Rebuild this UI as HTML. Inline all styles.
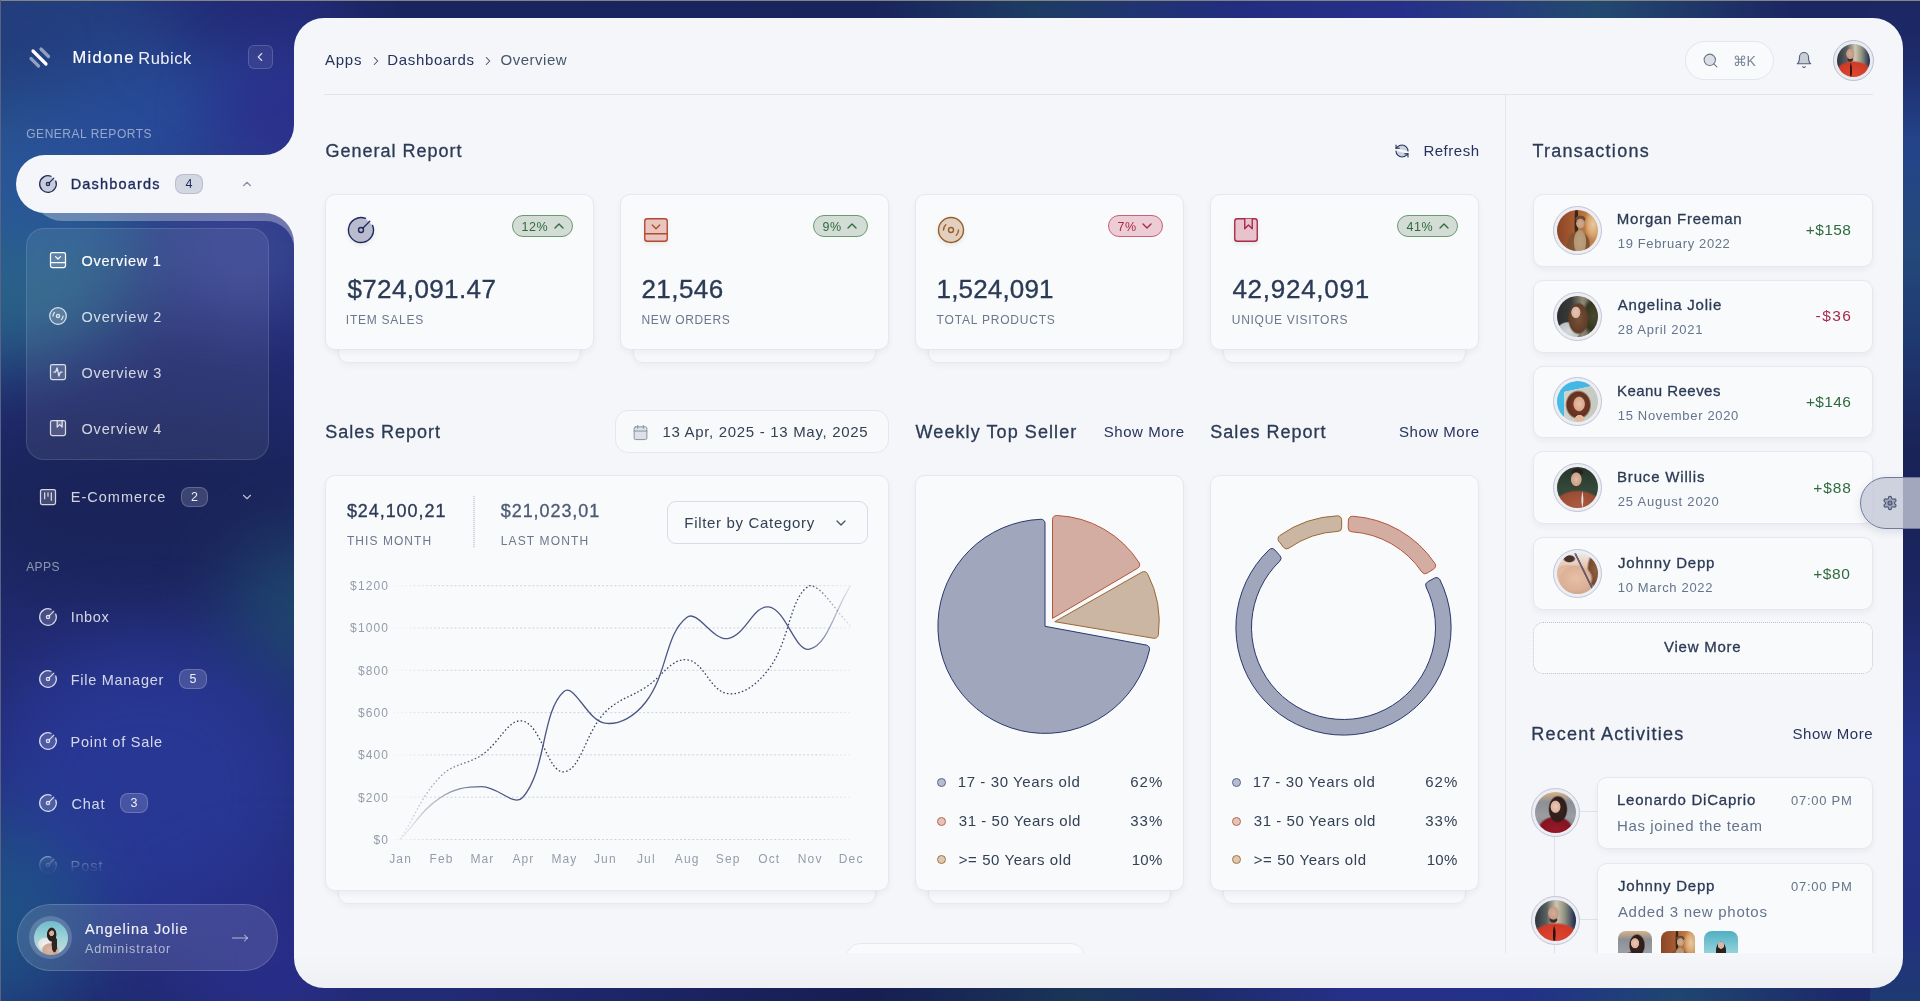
<!DOCTYPE html>
<html lang="en">
<head>
<meta charset="utf-8">
<title>Midone Rubick - Overview</title>
<style>
*{box-sizing:border-box;margin:0;padding:0}
html,body{width:1920px;height:1001px;overflow:hidden}
body{font-family:"Liberation Sans",sans-serif;color:#2b3a55;position:relative;background:#1f2a6b}
.abs{position:absolute}
#bg{position:absolute;left:0;top:0;width:1920px;height:1001px;overflow:hidden;background:#212a70}
#bg i{position:absolute;display:block;border-radius:50%;filter:blur(40px)}
#stripT{left:300px;top:0;width:1620px;height:50px;background:linear-gradient(90deg,rgba(37,47,128,0) 0%,#1a2560 6%,#19235c 35%,#1d3c62 45%,#232d80 58%,#26308a 68%,#23496f 80%,#1c2663 92%,#1c2663 100%)}
#stripB{left:300px;top:950px;width:1620px;height:51px;background:linear-gradient(90deg,rgba(34,43,118,0) 0%,#222b76 8%,#161e52 35%,#1a3558 48%,#1c2c66 55%,#25308a 65%,#23308a 75%,#1f4570 85%,#1d2a6a 95%,#1d2a6a 100%)}
#stripR{left:1870px;top:0;width:50px;height:1001px;background:linear-gradient(180deg,#1c2663 0%,#1d2b6a 6%,#23438a 14%,#24497a 25%,#1f3a72 33%,#1a2358 45%,#1b2560 58%,#25338a 75%,#232f80 92%,#1f3a72 100%)}
#edgeT{left:0;top:0;width:1920px;height:1px;background:#84857f}
#edgeL{left:0;top:0;width:1px;height:1001px;background:#5a6284}
#main{left:294px;top:18px;width:1609px;height:970px;background:linear-gradient(180deg,#f4f6f9 0,#f4f6f9 96.5%,#eff0f3 100%);border-radius:30px}
.side-t{color:#fff;white-space:nowrap}
.med{-webkit-text-stroke:.2px currentColor}
.shead{font-size:12px;line-height:14px;letter-spacing:.75px;color:rgba(255,255,255,.5);white-space:nowrap}
.smenu{font-size:14.5px;line-height:18px;color:rgba(255,255,255,.8);letter-spacing:.45px;white-space:nowrap}
.smenu.on{color:#fff;-webkit-text-stroke:.15px #fff}
.sico{fill:rgba(255,255,255,.18);stroke:#fff;stroke-width:1.5;stroke-linecap:round;stroke-linejoin:round}
.sico.dim{stroke-opacity:.8}
.sbadge{height:20px;border-radius:8px;background:rgba(255,255,255,.15);border:1px solid rgba(255,255,255,.2);color:rgba(255,255,255,.9);font-size:12.5px;line-height:18px;text-align:center}
.sbadge.dark{background:rgba(30,42,94,.15);border-color:rgba(30,42,94,.15);color:#1e2a5e}


.bc{font-size:15px;line-height:18px;color:#26335c;letter-spacing:.45px;white-space:nowrap}
.bcs{fill:none;stroke:#3b4764;stroke-width:1.8;stroke-linecap:round;stroke-linejoin:round}
.av{border-radius:50%;overflow:hidden}
.h2{font-size:18px;line-height:22px;color:#2b3a55;letter-spacing:.3px;white-space:nowrap;-webkit-text-stroke:.3px #2b3a55}
.lnk{font-size:15px;line-height:18px;color:#26335c;letter-spacing:.5px;white-space:nowrap}
.card{background:#f9fafc;border:1px solid #e4e8ef;border-radius:10px;box-shadow:0 3px 6px rgba(30,41,59,.05)}
.stack{background:#f7f8fb;border:1px solid #e6e9f0;border-radius:10px;box-shadow:0 3px 6px rgba(30,41,59,.04)}
.pill{height:22px;border-radius:11px;font-size:12.5px;line-height:20px;display:flex;align-items:center;justify-content:flex-start;padding-left:8.6px;gap:2.6px;white-space:nowrap;letter-spacing:.45px}
.pill span{position:relative;top:.8px}
.pill svg{fill:none;stroke-width:2;stroke-linecap:round;stroke-linejoin:round}
.pill.up{background:#d3ddd6;border:1px solid #6a9a72;color:#2f6b3d}
.pill.up svg{stroke:#2f6b3d}
.pill.dn{background:#eccdd5;border:1px solid #c9607a;color:#a82a4a}
.pill.dn svg{stroke:#a82a4a}
.big{font-size:26px;line-height:32px;color:#2b3a55;letter-spacing:.2px;white-space:nowrap;-webkit-text-stroke:.35px #2b3a55}
.cap{font-size:12px;line-height:15px;color:#6b778c;letter-spacing:.9px;white-space:nowrap}

.mid{font-size:18px;line-height:22px;color:#2b3a55;letter-spacing:.55px;white-space:nowrap;-webkit-text-stroke:.3px currentColor}
.cap2{font-size:12px;line-height:15px;color:#6b778c;letter-spacing:.9px;white-space:nowrap}
.yl{width:58px;text-align:right;font-size:12px;line-height:15px;color:#949cab;letter-spacing:1.15px}
.xl{width:40px;text-align:center;font-size:12px;line-height:15px;color:#949cab;letter-spacing:1.15px;padding-left:1.15px}
.dot{width:9px;height:9px;border-radius:50%;border:1px solid}
.lg{font-size:15px;line-height:18px;color:#334155;letter-spacing:.6px;white-space:nowrap}

.ring{width:49px;height:49px;border-radius:50%;border:1px solid #c0c5d8;background:#eceef4}
.nm{font-size:15px;line-height:18px;color:#2b3a55;letter-spacing:.65px;white-space:nowrap;-webkit-text-stroke:.3px #2b3a55}
.dt{font-size:13px;line-height:16px;color:#64748b;letter-spacing:.75px;white-space:nowrap}
.amt{font-size:15.5px;line-height:18px;text-align:right;letter-spacing:.6px;white-space:nowrap}
.amt.g{color:#2f6b3d}.amt.r{color:#a82a4a}
.tm{font-size:13px;line-height:16px;color:#64748b;letter-spacing:.6px;white-space:nowrap;text-align:right}
.sub{font-size:15px;line-height:18px;color:#64748b;letter-spacing:.65px;white-space:nowrap}
</style>
</head>
<body>
<div id="bg">
<i style="left:-110px;top:-70px;width:320px;height:230px;background:#24417f;opacity:.9"></i>
<i style="left:-170px;top:120px;width:320px;height:250px;background:#2b6c8d;opacity:.85"></i>
<i style="left:-70px;top:55px;width:420px;height:150px;background:#2a50a0;opacity:.8;transform:rotate(-24deg)"></i>
<i style="left:160px;top:-80px;width:240px;height:150px;background:#232a78;opacity:.9"></i>
<i style="left:215px;top:50px;width:150px;height:130px;background:#2c2f8e;opacity:.85;filter:blur(30px)"></i>
<i style="left:150px;top:180px;width:190px;height:140px;background:#4656a8;opacity:.65"></i>
<i style="left:-60px;top:400px;width:420px;height:210px;background:#1a2459;opacity:.95"></i>
<i style="left:230px;top:540px;width:140px;height:150px;background:#1f4b6e;opacity:.9"></i>
<i style="left:-20px;top:640px;width:330px;height:300px;background:#293896;opacity:.95"></i>
<i style="left:-110px;top:820px;width:200px;height:200px;background:#1f5a8a;opacity:.8"></i>
<i style="left:170px;top:880px;width:200px;height:160px;background:#2a2f8e;opacity:.8"></i>
</div>
<div id="stripT" class="abs"></div><div id="stripB" class="abs"></div><div id="stripR" class="abs"></div>
<div id="wrap" style="position:absolute;left:0;top:0;width:1920px;height:1001px;will-change:transform">
<div id="edgeT" class="abs"></div>
<div id="edgeL" class="abs"></div>
<div id="main" class="abs"></div>
<svg width="0" height="0" style="position:absolute">
<defs>
<g id="i-gauge"><path d="M15.6 2.7a10 10 0 1 0 5.7 5.7"/><circle cx="12" cy="12" r="2"/><path d="M13.4 10.6 19 5"/></g>
<g id="i-panel"><rect width="18" height="18" x="3" y="3" rx="2"/><path d="M3 15h18"/><path d="m15 8-3 3-3-3"/></g>
<g id="i-disc"><circle cx="12" cy="12" r="10"/><path d="M6 12c0-1.7.7-3.2 1.8-4.2"/><circle cx="12" cy="12" r="2"/><path d="M18 12c0 1.7-.7 3.2-1.8 4.2"/></g>
<g id="i-act"><rect width="18" height="18" x="3" y="3" rx="2"/><path d="M17 12h-2l-2 5-2-10-2 5H7"/></g>
<g id="i-album"><rect width="18" height="18" x="3" y="3" rx="2" ry="2"/><polyline points="11 3 11 11 14 8 17 11 17 3"/></g>
<g id="i-kanban"><rect width="18" height="18" x="3" y="3" rx="2"/><path d="M8 7v7"/><path d="M12 7v4"/><path d="M16 7v9"/></g>
</defs>
</svg>
<div id="side">
<svg class="abs" style="left:0;top:0" width="330" height="300" viewBox="0 0 330 300">
  <!-- translucent echo band below active pill -->
  <path d="M30 188 A33 33 0 0 0 63 221 L266 221 A28 28 0 0 1 294 249 L294 200 L30 200 Z" fill="#fff" fill-opacity=".3"/>
  <!-- active pill + inverse corners (panel colour) -->
  <path d="M294 125 A30 30 0 0 1 264 155 L45 155 A29 29 0 0 0 45 213 L264 213 A30 30 0 0 1 294 243 L330 243 L330 125 Z" fill="#f4f6f9"/>
</svg>
<!-- logo -->
<svg class="abs" style="left:28px;top:45px" width="24" height="24" viewBox="0 0 24 24" fill="none" stroke="#fff" stroke-width="3.2" stroke-linecap="round">
  <path d="M5 6 L18 19"/>
  <path d="M13 4 L20.5 11.5" stroke-opacity=".5"/>
  <path d="M3 13.5 L10.5 21" stroke-opacity=".5"/>
</svg>
<div class="abs side-t med" style="left:72.40px;letter-spacing:1.372px;top:47.10px;font-size:16.5px;line-height:20px">Midone</div><div class="abs side-t" style="left:138.30px;letter-spacing:0.483px;top:47.80px;font-size:16.5px;line-height:20px;opacity:.92">Rubick</div>
<div class="abs" style="left:248px;top:45px;width:25px;height:24px;border-radius:6px;background:rgba(255,255,255,.07);border:1px solid rgba(255,255,255,.16)"></div>
<svg class="abs" style="left:253px;top:50px" width="14" height="14" viewBox="0 0 24 24" fill="none" stroke="#fff" stroke-opacity=".8" stroke-width="2" stroke-linecap="round" stroke-linejoin="round"><path d="m15 18-6-6 6-6"/></svg>

<div class="abs shead" style="left:26.25px;letter-spacing:0.520px;top:127.00px">GENERAL REPORTS</div>

<!-- Dashboards (active) -->
<svg class="abs" style="left:38.4px;top:174.4px" width="20" height="20" viewBox="0 0 24 24" fill="rgba(30,42,94,.2)" stroke="#1e2a5e" stroke-width="1.5" stroke-linecap="round" stroke-linejoin="round"><use href="#i-gauge"/></svg>
<div class="abs" id="m-dash" style="left:70.70px;letter-spacing:1.174px;top:174.90px;font-size:14.5px;line-height:18px;color:#1e2a5e;-webkit-text-stroke:.35px #1e2a5e">Dashboards</div>
<div class="abs sbadge dark" style="left:175px;top:174px;width:28px">4</div>
<svg class="abs" style="left:240px;top:177px" width="14" height="14" viewBox="0 0 24 24" fill="none" stroke="#1e2a5e" stroke-opacity=".5" stroke-width="2" stroke-linecap="round" stroke-linejoin="round"><path d="m18 15-6-6-6 6"/></svg>

<!-- submenu -->
<div class="abs" style="left:26px;top:228px;width:243px;height:232px;border-radius:18px;background:rgba(255,255,255,.075);border:1px solid rgba(255,255,255,.12)"></div>
<svg class="abs sico" style="left:48.2px;top:250.3px" width="20" height="20" viewBox="0 0 24 24"><use href="#i-panel"/></svg>
<div class="abs smenu on" style="left:81.50px;letter-spacing:0.749px;top:251.80px">Overview 1</div>
<svg class="abs sico dim" style="left:48.2px;top:306.3px" width="20" height="20" viewBox="0 0 24 24"><use href="#i-disc"/></svg>
<div class="abs smenu" style="left:81.50px;letter-spacing:0.816px;top:307.80px">Overview 2</div>
<svg class="abs sico dim" style="left:48.2px;top:362.3px" width="20" height="20" viewBox="0 0 24 24"><use href="#i-act"/></svg>
<div class="abs smenu" style="left:81.50px;letter-spacing:0.816px;top:363.80px">Overview 3</div>
<svg class="abs sico dim" style="left:48.2px;top:418.3px" width="20" height="20" viewBox="0 0 24 24"><use href="#i-album"/></svg>
<div class="abs smenu" style="left:81.50px;letter-spacing:0.816px;top:419.80px">Overview 4</div>

<!-- E-Commerce -->
<svg class="abs sico dim" style="left:38.3px;top:487.0px" width="20" height="20" viewBox="0 0 24 24"><use href="#i-kanban"/></svg>
<div class="abs smenu" style="left:70.70px;letter-spacing:1.018px;top:488.20px">E-Commerce</div>
<div class="abs sbadge" style="left:181px;top:487px;width:27px">2</div>
<svg class="abs" style="left:240px;top:490px" width="14" height="14" viewBox="0 0 24 24" fill="none" stroke="#fff" stroke-opacity=".7" stroke-width="2" stroke-linecap="round" stroke-linejoin="round"><path d="m6 9 6 6 6-6"/></svg>

<div class="abs shead" style="left:26.20px;letter-spacing:0.429px;top:559.60px">APPS</div>

<svg class="abs sico dim" style="left:38.3px;top:607.0px" width="20" height="20" viewBox="0 0 24 24"><use href="#i-gauge"/></svg>
<div class="abs smenu" style="left:70.70px;letter-spacing:0.670px;top:608.30px">Inbox</div>
<svg class="abs sico dim" style="left:38.3px;top:669.0px" width="20" height="20" viewBox="0 0 24 24"><use href="#i-gauge"/></svg>
<div class="abs smenu" style="left:70.70px;letter-spacing:0.728px;top:670.70px">File Manager</div>
<div class="abs sbadge" style="left:179px;top:669px;width:28px">5</div>
<svg class="abs sico dim" style="left:38.3px;top:731.0px" width="20" height="20" viewBox="0 0 24 24"><use href="#i-gauge"/></svg>
<div class="abs smenu" style="left:70.50px;letter-spacing:0.787px;top:732.80px">Point of Sale</div>
<svg class="abs sico dim" style="left:38.3px;top:793.0px" width="20" height="20" viewBox="0 0 24 24"><use href="#i-gauge"/></svg>
<div class="abs smenu" style="left:71.50px;letter-spacing:0.767px;top:795.10px">Chat</div>
<div class="abs sbadge" style="left:120px;top:793px;width:28px">3</div>
<svg class="abs sico dim" style="left:38.3px;top:855.0px;opacity:.6;-webkit-mask-image:linear-gradient(180deg,#000 0%,rgba(0,0,0,.25) 60%,transparent 100%)" width="20" height="20" viewBox="0 0 24 24"><use href="#i-gauge"/></svg>
<div class="abs smenu" style="left:70.50px;letter-spacing:1.038px;top:857.10px;opacity:.6;-webkit-mask-image:linear-gradient(180deg,#000 0%,rgba(0,0,0,.25) 60%,transparent 100%)">Post</div>

<!-- user -->
<div class="abs" style="left:17px;top:904px;width:260.5px;height:66.5px;border-radius:33.5px;background:rgba(255,255,255,.12);border:1px solid rgba(255,255,255,.16)"></div>
<div class="abs" style="left:29px;top:916px;width:43px;height:43px;border-radius:50%;background:rgba(255,255,255,.18)"></div>
<div class="abs" style="left:33.5px;top:920.5px;width:34px;height:34px;border-radius:50%;background:radial-gradient(ellipse 8% 9% at 52% 36%,#d9b7a4 0,#cfa792 85%,rgba(0,0,0,0) 100%),radial-gradient(ellipse 15% 22% at 52% 40%,#2a201d 0,#2a201d 85%,rgba(0,0,0,0) 100%),radial-gradient(ellipse 9% 26% at 60% 68%,#2e2420 0,#2e2420 85%,rgba(0,0,0,0) 100%),radial-gradient(ellipse 26% 22% at 48% 86%,#d9b7a4 0,#cfa792 85%,rgba(0,0,0,0) 100%),radial-gradient(ellipse 24% 20% at 34% 68%,#f0f1ef 0,#e3e6e4 85%,rgba(0,0,0,0) 100%),linear-gradient(180deg,#6fbccb 0%,#9fd3da 50%,#c9dcd6 100%)"></div>
<div class="abs side-t" id="u-name" style="left:84.90px;letter-spacing:0.952px;top:920.30px;font-size:14.5px;line-height:18px;opacity:.92;-webkit-text-stroke:.15px #fff">Angelina Jolie</div>
<div class="abs side-t" id="u-role" style="left:84.90px;letter-spacing:0.977px;top:941.50px;font-size:12.5px;line-height:15px;opacity:.6">Administrator</div>
<svg class="abs" style="left:231px;top:929px" width="18" height="18" viewBox="0 0 24 24" fill="none" stroke="#fff" stroke-opacity=".6" stroke-width="1.4" stroke-linecap="round" stroke-linejoin="round"><path d="M18 8L22 12L18 16"/><path d="M2 12H22"/></svg>
</div>

<svg width="0" height="0" style="position:absolute"><defs>
<g id="i-chev-r"><path d="m9 18 6-6-6-6"/></g>
<g id="i-chev-u"><path d="m18 15-6-6-6 6"/></g>
<g id="i-chev-d"><path d="m6 9 6 6 6-6"/></g>
</defs></svg>
<!-- header -->
<div class="abs bc" id="bc1" style="left:325.00px;letter-spacing:0.737px;top:51.40px">Apps</div>
<svg class="abs bcs" style="left:369px;top:54px" width="14" height="14" viewBox="0 0 24 24"><use href="#i-chev-r"/></svg>
<div class="abs bc" id="bc2" style="left:387.30px;letter-spacing:0.647px;top:51.40px">Dashboards</div>
<svg class="abs bcs" style="left:481px;top:54px" width="14" height="14" viewBox="0 0 24 24"><use href="#i-chev-r"/></svg>
<div class="abs bc" id="bc3" style="left:500.50px;letter-spacing:0.517px;top:51.40px;color:#475569">Overview</div>
<div class="abs" style="left:1685px;top:41px;width:89px;height:39px;border-radius:20px;border:1px solid #e2e6ee;background:#f9fafc"></div>
<svg class="abs" style="left:1702px;top:52px" width="17" height="17" viewBox="0 0 24 24" fill="rgba(100,116,139,.2)" stroke="#6b7789" stroke-width="1.5" stroke-linecap="round" stroke-linejoin="round"><circle cx="11" cy="11" r="8"/><path d="m21 21-4.3-4.3"/></svg>
<div class="abs" id="cmdk" style="left:1732.5px;top:52px;font-size:14px;line-height:18px;color:#7a8699;letter-spacing:0">&#8984;K</div>
<svg class="abs" style="left:1795px;top:51px" width="18" height="18" viewBox="0 0 24 24" fill="rgba(71,85,105,.25)" stroke="#55617a" stroke-width="1.5" stroke-linecap="round" stroke-linejoin="round"><path d="M6 8a6 6 0 0 1 12 0c0 7 3 9 3 9H3s3-2 3-9"/><path d="M10.3 21a1.94 1.94 0 0 0 3.4 0"/></svg>
<div class="abs" style="left:1833px;top:40px;width:41px;height:41px;border-radius:50%;border:1px solid #b9bfd2;background:#e9ebf2"></div>
<div class="abs av" style="left:1837px;top:44px;width:33px;height:33px;background:radial-gradient(ellipse 13% 17% at 40% 30%,#d3ac97 0,#c29784 85%,rgba(0,0,0,0) 100%),radial-gradient(ellipse 10% 8% at 40% 47%,#3a2c28 0,#3a2c28 70%,rgba(0,0,0,0) 100%),radial-gradient(ellipse 4% 26% at 42% 80%,#3b1714 0,#3b1714 60%,rgba(0,0,0,0) 100%),radial-gradient(ellipse 60% 42% at 50% 92%,#de4630 0,#cf3a27 85%,rgba(0,0,0,0) 100%),linear-gradient(90deg,#2c343c 0%,#59605f 30%,#cfc6b2 55%,#8f927f 75%,#1d2a4a 100%)"></div>
<div class="abs" style="left:324px;top:94px;width:1549px;height:1px;background:#dfe3ea"></div>
<div class="abs" style="left:1505px;top:95px;width:1px;height:858px;background:#e1e5ec"></div>

<!-- General report -->
<div class="abs h2" id="h-gr" style="left:325.40px;letter-spacing:1.011px;top:140.10px">General Report</div>
<svg class="abs" style="left:1394px;top:143px" width="16" height="16" viewBox="0 0 24 24" fill="rgba(30,42,94,.18)" stroke="#27335f" stroke-width="1.6" stroke-linecap="round" stroke-linejoin="round"><path d="M21 12a9 9 0 0 0-9-9 9.75 9.75 0 0 0-6.74 2.74L3 8"/><path d="M3 3v5h5"/><path d="M3 12a9 9 0 0 0 9 9 9.75 9.75 0 0 0 6.74-2.74L21 16"/><path d="M16 16h5v5"/></svg>
<div class="abs lnk" id="refresh" style="left:1423.40px;letter-spacing:0.528px;top:141.70px">Refresh</div>

<!-- stat cards -->
<div class="abs stack" style="left:338px;top:208px;width:243px;height:155px"></div>
<div class="abs card" style="left:325px;top:194px;width:269px;height:156px"></div>
<div class="abs stack" style="left:633px;top:208px;width:243px;height:155px"></div>
<div class="abs card" style="left:620px;top:194px;width:269px;height:156px"></div>
<div class="abs stack" style="left:928px;top:208px;width:243px;height:155px"></div>
<div class="abs card" style="left:915px;top:194px;width:269px;height:156px"></div>
<div class="abs stack" style="left:1223px;top:208px;width:243px;height:155px"></div>
<div class="abs card" style="left:1210px;top:194px;width:269px;height:156px"></div>

<svg class="abs" style="left:346px;top:215px;filter:drop-shadow(0 2px 2px rgba(0,0,0,.08))" width="30" height="30" viewBox="0 0 24 24" fill="#b9bccf" stroke="#1e2a5e" stroke-width="1.1" stroke-linecap="round" stroke-linejoin="round"><use href="#i-gauge"/></svg>
<svg class="abs" style="left:641px;top:215px;filter:drop-shadow(0 2px 2px rgba(0,0,0,.08))" width="30" height="30" viewBox="0 0 24 24" fill="#e8c5be" stroke="#b34a30" stroke-width="1.1" stroke-linecap="round" stroke-linejoin="round"><use href="#i-panel"/></svg>
<svg class="abs" style="left:936px;top:215px;filter:drop-shadow(0 2px 2px rgba(0,0,0,.08))" width="30" height="30" viewBox="0 0 24 24" fill="#e3cfbe" stroke="#96602b" stroke-width="1.1" stroke-linecap="round" stroke-linejoin="round"><use href="#i-disc"/></svg>
<svg class="abs" style="left:1231px;top:215px;filter:drop-shadow(0 2px 2px rgba(0,0,0,.08))" width="30" height="30" viewBox="0 0 24 24" fill="#e6c3cd" stroke="#a82a4a" stroke-width="1.1" stroke-linecap="round" stroke-linejoin="round"><use href="#i-album"/></svg>

<div class="abs pill up" style="left:512px;top:215px;width:61px"><span>12%</span><svg width="16" height="16" viewBox="0 0 24 24"><use href="#i-chev-u"/></svg></div>
<div class="abs pill up" style="left:813px;top:215px;width:55px"><span>9%</span><svg width="16" height="16" viewBox="0 0 24 24"><use href="#i-chev-u"/></svg></div>
<div class="abs pill dn" style="left:1108px;top:215px;width:55px"><span>7%</span><svg width="16" height="16" viewBox="0 0 24 24"><use href="#i-chev-d"/></svg></div>
<div class="abs pill up" style="left:1397px;top:215px;width:61px"><span>41%</span><svg width="16" height="16" viewBox="0 0 24 24"><use href="#i-chev-u"/></svg></div>

<div class="abs big" id="v1" style="left:347.40px;letter-spacing:0.387px;top:272.80px">$724,091.47</div>
<div class="abs big" id="v2" style="left:641.40px;letter-spacing:0.467px;top:272.80px">21,546</div>
<div class="abs big" id="v3" style="left:936.50px;letter-spacing:0.174px;top:272.80px">1,524,091</div>
<div class="abs big" id="v4" style="left:1232.40px;letter-spacing:0.743px;top:272.80px">42,924,091</div>
<div class="abs cap" id="c1" style="left:345.80px;letter-spacing:0.746px;top:313.30px">ITEM SALES</div>
<div class="abs cap" id="c2" style="left:641.60px;letter-spacing:0.604px;top:313.30px">NEW ORDERS</div>
<div class="abs cap" id="c3" style="left:936.60px;letter-spacing:0.805px;top:313.30px">TOTAL PRODUCTS</div>
<div class="abs cap" id="c4" style="left:1231.80px;letter-spacing:0.708px;top:313.30px">UNIQUE VISITORS</div>


<!-- row 2 headings -->
<div class="abs h2" id="h-sr" style="left:325.30px;letter-spacing:0.959px;top:421.00px">Sales Report</div>
<div class="abs" style="left:615px;top:410px;width:274px;height:43px;border-radius:13px;border:1px solid #e3e7ee;background:#f8f9fb"></div>
<svg class="abs" style="left:632px;top:424px" width="17" height="17" viewBox="0 0 24 24" fill="rgba(100,116,139,.18)" stroke="#8a93a6" stroke-width="1.4" stroke-linecap="round" stroke-linejoin="round"><path d="M8 2v4"/><path d="M16 2v4"/><rect width="18" height="18" x="3" y="4" rx="2"/><path d="M3 10h18"/></svg>
<div class="abs" id="dater" style="left:662.40px;letter-spacing:0.687px;top:423.00px;font-size:15px;line-height:18px;color:#334155;white-space:nowrap">13 Apr, 2025 - 13 May, 2025</div>
<div class="abs h2" id="h-wts" style="left:915.60px;letter-spacing:1.079px;top:421.00px">Weekly Top Seller</div>
<div class="abs lnk" id="sm1" style="left:1103.75px;letter-spacing:0.560px;top:423.10px">Show More</div>
<div class="abs h2" id="h-sr2" style="left:1210.30px;letter-spacing:1.022px;top:421.00px">Sales Report</div>
<div class="abs lnk" id="sm2" style="left:1399.00px;letter-spacing:0.529px;top:423.10px">Show More</div>

<!-- row 2 cards -->
<div class="abs stack" style="left:338px;top:700px;width:538px;height:204px"></div>
<div class="abs card" style="left:325px;top:475px;width:564px;height:416px"></div>
<div class="abs stack" style="left:928px;top:700px;width:243px;height:204px"></div>
<div class="abs card" style="left:915px;top:475px;width:269px;height:416px"></div>
<div class="abs stack" style="left:1223px;top:700px;width:243px;height:204px"></div>
<div class="abs card" style="left:1210px;top:475px;width:269px;height:416px"></div>

<!-- sales report content -->
<div class="abs mid" id="tm" style="left:346.90px;letter-spacing:0.936px;top:500.40px">$24,100,21</div>
<div class="abs cap2" id="tml" style="left:346.90px;letter-spacing:1.067px;top:534.20px">THIS MONTH</div>
<div class="abs" style="left:472.5px;top:496px;width:2px;height:52px;background:repeating-linear-gradient(180deg,#d3d9e3 0,#d3d9e3 1px,#eef1f5 1px,#eef1f5 2px)"></div>
<div class="abs mid" id="lm" style="left:500.80px;letter-spacing:0.925px;top:500.40px;color:#4b5a72">$21,023,01</div>
<div class="abs cap2" id="lml" style="left:500.80px;letter-spacing:1.125px;top:534.20px">LAST MONTH</div>
<div class="abs" style="left:667px;top:501px;width:201px;height:43px;border-radius:9px;border:1px solid #d6dbe5;background:#f9fafc"></div>
<div class="abs" id="fbc" style="left:684.30px;letter-spacing:0.678px;top:513.60px;font-size:15px;line-height:18px;color:#334155;white-space:nowrap">Filter by Category</div>
<svg class="abs" style="left:833px;top:514.5px" width="16" height="16" viewBox="0 0 24 24" fill="none" stroke="#475569" stroke-width="2" stroke-linecap="round" stroke-linejoin="round"><path d="m6 9 6 6 6-6"/></svg>

<svg class="abs" style="left:0;top:0;pointer-events:none" width="1920" height="1001" viewBox="0 0 1920 1001">
<defs>
<linearGradient id="gg" gradientUnits="userSpaceOnUse" x1="393" y1="0" x2="851" y2="0"><stop offset="0" stop-color="#cdd2dd" stop-opacity=".15"/><stop offset=".12" stop-color="#cdd2dd" stop-opacity="1"/><stop offset=".93" stop-color="#cdd2dd" stop-opacity="1"/><stop offset="1" stop-color="#cdd2dd" stop-opacity=".3"/></linearGradient>
<linearGradient id="lg1" gradientUnits="userSpaceOnUse" x1="400" y1="0" x2="851" y2="0"><stop offset="0" stop-color="#4a5683" stop-opacity=".05"/><stop offset=".2" stop-color="#4a5683" stop-opacity="1"/><stop offset=".9" stop-color="#4a5683" stop-opacity="1"/><stop offset="1" stop-color="#4a5683" stop-opacity=".1"/></linearGradient>
<linearGradient id="lg2" gradientUnits="userSpaceOnUse" x1="400" y1="0" x2="851" y2="0"><stop offset="0" stop-color="#3a4462" stop-opacity=".1"/><stop offset=".2" stop-color="#3a4462" stop-opacity="1"/><stop offset=".9" stop-color="#3a4462" stop-opacity="1"/><stop offset="1" stop-color="#3a4462" stop-opacity=".1"/></linearGradient>
</defs>
<g stroke="url(#gg)" stroke-width="1" stroke-dasharray="2 2.1" fill="none"><line x1="393" y1="839.5" x2="851" y2="839.5"/><line x1="393" y1="797.2" x2="851" y2="797.2"/><line x1="393" y1="754.9" x2="851" y2="754.9"/><line x1="393" y1="712.6" x2="851" y2="712.6"/><line x1="393" y1="670.3" x2="851" y2="670.3"/><line x1="393" y1="628.0" x2="851" y2="628.0"/><line x1="393" y1="585.7" x2="851" y2="585.7"/></g>
<path d="M400.0 839.5 C416.4 814.1 420.6 797.1 441.0 776.0 C453.4 763.2 466.7 765.1 481.9 754.9 C499.5 743.1 508.2 718.0 522.9 721.1 C541.0 724.8 548.3 773.4 563.9 771.8 C581.0 770.0 585.2 732.9 604.8 712.6 C618.0 699.0 629.6 697.7 645.8 687.2 C662.4 676.5 671.0 658.5 686.7 659.7 C703.7 661.0 710.4 691.6 727.7 693.6 C743.2 695.4 757.6 683.9 768.7 669.2 C790.3 640.7 789.4 596.4 809.6 585.7 C822.1 585.7 834.2 609.8 850.6 625.9" fill="none" stroke="url(#lg2)" stroke-width="1.3" stroke-dasharray="1.6 2.2"/>
<path d="M400.0 839.5 C416.4 822.6 421.9 809.5 441.0 797.2 C454.7 788.4 465.5 786.6 481.9 786.6 C498.3 786.6 514.0 807.5 522.9 797.2 C546.8 769.5 541.4 711.8 563.9 691.5 C574.1 682.2 587.5 720.9 604.8 723.2 C620.2 725.2 635.0 715.9 645.8 702.0 C667.8 673.6 664.8 634.5 686.7 617.4 C697.5 609.1 712.3 640.6 727.7 638.6 C745.1 636.3 753.3 604.9 768.7 606.9 C786.1 609.1 795.3 652.9 809.6 649.2 C828.1 644.4 834.2 611.1 850.6 585.7" fill="none" stroke="url(#lg1)" stroke-width="1.3"/>
<!-- pie -->
<path d="M1045.00 626.30 L1146.30 645.07 A4 4 0 0 1 1149.47 649.89 A107.1 107.1 0 1 1 1040.84 519.28 A4 4 0 0 1 1045.00 523.28 Z" fill="#a0a6bb" stroke="#2a386c" stroke-width="1"/>
<path d="M1052.50 618.40 L1052.50 519.48 A4 4 0 0 1 1056.66 515.48 A103 103 0 0 1 1139.06 562.58 A4 4 0 0 1 1137.73 568.19 Z" fill="#d3ada2" stroke="#b5553c" stroke-width="1"/>
<path d="M1054.70 621.70 L1142.01 572.10 A4 4 0 0 1 1147.54 573.74 A104.5 104.5 0 0 1 1158.37 634.83 A4 4 0 0 1 1153.74 638.27 Z" fill="#cbb5a3" stroke="#9a6a35" stroke-width="1"/>
<!-- donut -->
<path d="M1434.48 578.10 A4 4 0 0 1 1439.97 579.85 A107.6 107.6 0 1 1 1269.14 549.73 A4 4 0 0 1 1274.90 549.97 L1279.94 555.66 A4 4 0 0 1 1279.72 561.20 A92 92 0 1 0 1426.11 587.01 A4 4 0 0 1 1427.79 581.73 Z" fill="#a0a6bb" stroke="#2a386c" stroke-width="1"/>
<path d="M1348.41 520.11 A4 4 0 0 1 1352.67 516.23 A107.6 107.6 0 0 1 1434.89 563.41 A4 4 0 0 1 1433.68 569.05 L1427.22 573.06 A4 4 0 0 1 1421.80 571.90 A92 92 0 0 0 1351.94 531.81 A4 4 0 0 1 1348.21 527.72 Z" fill="#d3ada2" stroke="#b5553c" stroke-width="1"/>
<path d="M1278.84 541.28 A4 4 0 0 1 1279.69 535.58 A107.6 107.6 0 0 1 1337.47 515.80 A4 4 0 0 1 1341.64 519.78 L1341.67 527.38 A4 4 0 0 1 1337.85 531.39 A92 92 0 0 0 1288.95 548.13 A4 4 0 0 1 1283.48 547.31 Z" fill="#cbb5a3" stroke="#9a6a35" stroke-width="1"/>
</svg>
<div class="abs yl" style="left:331.2px;top:832.8px">$0</div><div class="abs yl" style="left:331.2px;top:790.5px">$200</div><div class="abs yl" style="left:331.2px;top:748.2px">$400</div><div class="abs yl" style="left:331.2px;top:705.9px">$600</div><div class="abs yl" style="left:331.2px;top:663.6px">$800</div><div class="abs yl" style="left:331.2px;top:621.3px">$1000</div><div class="abs yl" style="left:331.2px;top:579.0px">$1200</div>
<div class="abs xl" style="left:380.0px;top:852.3px">Jan</div><div class="abs xl" style="left:421.0px;top:852.3px">Feb</div><div class="abs xl" style="left:461.9px;top:852.3px">Mar</div><div class="abs xl" style="left:502.9px;top:852.3px">Apr</div><div class="abs xl" style="left:543.9px;top:852.3px">May</div><div class="abs xl" style="left:584.8px;top:852.3px">Jun</div><div class="abs xl" style="left:625.8px;top:852.3px">Jul</div><div class="abs xl" style="left:666.7px;top:852.3px">Aug</div><div class="abs xl" style="left:707.7px;top:852.3px">Sep</div><div class="abs xl" style="left:748.7px;top:852.3px">Oct</div><div class="abs xl" style="left:789.6px;top:852.3px">Nov</div><div class="abs xl" style="left:830.6px;top:852.3px">Dec</div>
<div class="abs dot" style="left:936.5px;top:777.5px;background:#b9bccf;border-color:#5a6591"></div><div class="abs lg" style="left:957.75px;letter-spacing:0.590px;top:773.30px">17 - 30 Years old</div><div class="abs lg" style="left:1130.30px;letter-spacing:0.958px;top:773.30px">62%</div><div class="abs dot" style="left:936.5px;top:816.5px;background:#e3c3ba;border-color:#b9684f"></div><div class="abs lg" style="left:958.75px;letter-spacing:0.565px;top:812.10px">31 - 50 Years old</div><div class="abs lg" style="left:1130.30px;letter-spacing:0.958px;top:812.10px">33%</div><div class="abs dot" style="left:936.5px;top:855.0px;background:#dcc8b6;border-color:#a5773f"></div><div class="abs lg" style="left:958.75px;letter-spacing:0.569px;top:850.50px">&gt;= 50 Years old</div><div class="abs lg" style="left:1131.80px;letter-spacing:0.208px;top:850.50px">10%</div><div class="abs dot" style="left:1231.5px;top:777.5px;background:#b9bccf;border-color:#5a6591"></div><div class="abs lg" style="left:1252.75px;letter-spacing:0.590px;top:773.30px">17 - 30 Years old</div><div class="abs lg" style="left:1425.30px;letter-spacing:0.958px;top:773.30px">62%</div><div class="abs dot" style="left:1231.5px;top:816.5px;background:#e3c3ba;border-color:#b9684f"></div><div class="abs lg" style="left:1253.75px;letter-spacing:0.565px;top:812.10px">31 - 50 Years old</div><div class="abs lg" style="left:1425.30px;letter-spacing:0.958px;top:812.10px">33%</div><div class="abs dot" style="left:1231.5px;top:855.0px;background:#dcc8b6;border-color:#a5773f"></div><div class="abs lg" style="left:1253.75px;letter-spacing:0.569px;top:850.50px">&gt;= 50 Years old</div><div class="abs lg" style="left:1426.80px;letter-spacing:0.208px;top:850.50px">10%</div>
<div class="abs" style="left:846px;top:943px;width:239px;height:10px;overflow:hidden"><div style="width:239px;height:40px;border:1px solid #e4e8ef;border-radius:14px;background:#f9fafc"></div></div>

<div class="abs h2" id="h-tx" style="left:1532.40px;letter-spacing:1.266px;top:140.10px">Transactions</div>
<div class="abs card" style="left:1533px;top:194px;width:340px;height:73px"></div>
<div class="abs ring" style="left:1553px;top:206px"></div><div class="abs av" style="left:1557px;top:210px;width:41px;height:41px;background:radial-gradient(ellipse 11% 13% at 57% 33%,#d2ad92 0,#c29a7e 85%,rgba(0,0,0,0) 100%),radial-gradient(ellipse 13% 9% at 57% 22%,#6a4a32 0,#6a4a32 85%,rgba(0,0,0,0) 100%),radial-gradient(ellipse 16% 32% at 56% 78%,#bda07f 0,#b39673 85%,rgba(0,0,0,0) 100%),radial-gradient(ellipse 30% 34% at 52% 84%,#8d5d38 0,#7f5230 85%,rgba(0,0,0,0) 100%),radial-gradient(ellipse 5% 60% at 47% 30%,#3b2519 0,#3b2519 70%,rgba(0,0,0,0) 100%),radial-gradient(ellipse 22% 40% at 88% 35%,#e7c9a2 0,#d9a872 60%,rgba(0,0,0,0) 100%),linear-gradient(90deg,#8a4526 0%,#a65a31 40%,#b8743f 65%,#c78c55 100%)"></div>
<div class="abs nm" id="txn0" style="left:1616.80px;letter-spacing:0.753px;top:210.40px">Morgan Freeman</div><div class="abs dt" id="txd0" style="left:1617.80px;letter-spacing:0.627px;top:235.90px">19 February 2022</div>
<div class="abs amt g" id="txa0" style="left:1805.80px;letter-spacing:0.397px;top:221.20px">+$158</div>
<div class="abs card" style="left:1533px;top:280px;width:340px;height:73px"></div>
<div class="abs ring" style="left:1553px;top:292px"></div><div class="abs av" style="left:1557px;top:296px;width:41px;height:41px;background:radial-gradient(ellipse 12% 15% at 46% 40%,#e6c6b6 0,#d9b3a1 85%,rgba(0,0,0,0) 100%),radial-gradient(ellipse 9% 3% at 47% 37%,#3a3030 0,#3a3030 70%,rgba(0,0,0,0) 100%),radial-gradient(ellipse 26% 40% at 52% 55%,#7a5238 0,#5e3d28 85%,rgba(0,0,0,0) 100%),radial-gradient(ellipse 30% 24% at 28% 86%,#d4d8da 0,#bcc2c5 85%,rgba(0,0,0,0) 100%),radial-gradient(ellipse 30% 50% at 90% 50%,#4a4a30 0,#34361f 70%,rgba(0,0,0,0) 100%),linear-gradient(90deg,#2c2d2e 0%,#3a3a3a 35%,#8f8a78 62%,#3b3d28 100%)"></div>
<div class="abs nm" id="txn1" style="left:1617.80px;letter-spacing:0.773px;top:296.40px">Angelina Jolie</div><div class="abs dt" id="txd1" style="left:1617.80px;letter-spacing:0.727px;top:321.90px">28 April 2021</div>
<div class="abs amt r" id="txa1" style="left:1815.60px;letter-spacing:1.433px;top:307.20px">-$36</div>
<div class="abs card" style="left:1533px;top:366px;width:340px;height:72px"></div>
<div class="abs ring" style="left:1553px;top:377px"></div><div class="abs av" style="left:1557px;top:381px;width:41px;height:41px;background:radial-gradient(ellipse 15% 19% at 54% 56%,#e8c0a8 0,#d9a98f 85%,rgba(0,0,0,0) 100%),radial-gradient(ellipse 12% 10% at 55% 92%,#e3b9a0 0,#e3b9a0 85%,rgba(0,0,0,0) 100%),radial-gradient(ellipse 32% 36% at 52% 58%,#7d412c 0,#63301f 85%,rgba(0,0,0,0) 100%),linear-gradient(168deg,rgba(0,0,0,0) 0,rgba(0,0,0,0) 8%,#43b8e6 9%,#43b8e6 24%,rgba(0,0,0,0) 25%),linear-gradient(90deg,#45bce8 0%,#45bce8 16%,#cfd3ca 17%,#c5c9c0 100%)"></div>
<div class="abs nm" id="txn2" style="left:1617.00px;letter-spacing:0.454px;top:382.40px">Keanu Reeves</div><div class="abs dt" id="txd2" style="left:1617.80px;letter-spacing:0.664px;top:407.90px">15 November 2020</div>
<div class="abs amt g" id="txa2" style="left:1805.90px;letter-spacing:0.372px;top:393.20px">+$146</div>
<div class="abs card" style="left:1533px;top:451px;width:340px;height:73px"></div>
<div class="abs ring" style="left:1553px;top:463px"></div><div class="abs av" style="left:1557px;top:467px;width:41px;height:41px;background:radial-gradient(ellipse 14% 18% at 47% 30%,#dcbda6 0,#caa48a 85%,rgba(0,0,0,0) 100%),radial-gradient(ellipse 15% 10% at 50% 13%,#2b211c 0,#2b211c 85%,rgba(0,0,0,0) 100%),radial-gradient(ellipse 10% 8% at 46% 44%,#4a372c 0,#4a372c 70%,rgba(0,0,0,0) 100%),radial-gradient(ellipse 3% 22% at 62% 80%,#e6e0da 0,#e6e0da 60%,rgba(0,0,0,0) 100%),radial-gradient(ellipse 60% 36% at 50% 92%,#ab5a40 0,#9c4c34 85%,rgba(0,0,0,0) 100%),linear-gradient(180deg,#26352a 0%,#34493a 55%,#2b3b2e 100%)"></div>
<div class="abs nm" id="txn3" style="left:1617.00px;letter-spacing:0.824px;top:468.40px">Bruce Willis</div><div class="abs dt" id="txd3" style="left:1617.80px;letter-spacing:0.812px;top:493.90px">25 August 2020</div>
<div class="abs amt g" id="txa3" style="left:1813.20px;letter-spacing:0.936px;top:479.20px">+$88</div>
<div class="abs card" style="left:1533px;top:537px;width:340px;height:73px"></div>
<div class="abs ring" style="left:1553px;top:549px"></div><div class="abs av" style="left:1557px;top:553px;width:41px;height:41px;background:linear-gradient(64deg,rgba(0,0,0,0) 0,rgba(0,0,0,0) 60%,rgba(74,69,96,.8) 61%,rgba(74,69,96,.8) 63.5%,rgba(0,0,0,0) 64.5%),radial-gradient(ellipse 16% 10% at 30% 14%,#4a332c 0,#4a332c 70%,rgba(0,0,0,0) 100%),radial-gradient(ellipse 42% 34% at 46% 62%,#e6c0a6 0,#dcb196 85%,rgba(0,0,0,0) 100%),radial-gradient(ellipse 30% 20% at 26% 48%,#e9c7ae 0,#deb79d 85%,rgba(0,0,0,0) 100%),radial-gradient(ellipse 22% 48% at 94% 42%,#8a5f42 0,#74492f 75%,rgba(0,0,0,0) 100%),linear-gradient(180deg,#efe9e6 0%,#e4c5ae 35%,#cfa78c 100%)"></div>
<div class="abs nm" id="txn4" style="left:1618.00px;letter-spacing:0.805px;top:554.40px">Johnny Depp</div><div class="abs dt" id="txd4" style="left:1617.80px;letter-spacing:0.659px;top:579.90px">10 March 2022</div>
<div class="abs amt g" id="txa4" style="left:1813.20px;letter-spacing:0.603px;top:565.20px">+$80</div>
<div class="abs" style="left:1533px;top:622px;width:340px;height:52px;border-radius:10px;border:1px dotted #bcc2cf;background:#f9fafc"></div>
<div class="abs" id="vm" style="left:1664.00px;letter-spacing:0.757px;top:638.40px;font-size:15px;line-height:18px;color:#2b3a55;-webkit-text-stroke:.3px #2b3a55">View More</div>
<div class="abs h2" id="h-ra" style="left:1531.20px;letter-spacing:1.253px;top:723.00px">Recent Activities</div>
<div class="abs lnk" id="sm3" style="left:1792.50px;letter-spacing:0.522px;top:725.10px">Show More</div>
<!-- timeline -->
<div class="abs" style="left:1554px;top:836px;width:1px;height:117px;background:#dde1ea"></div>
<div class="abs" style="left:1580px;top:811px;width:17px;height:1px;background:#dde1ea"></div>
<div class="abs" style="left:1580px;top:919px;width:17px;height:1px;background:#dde1ea"></div>
<div class="abs card" style="left:1597px;top:777px;width:276px;height:72px"></div>
<div class="abs" style="left:1590px;top:857px;width:290px;height:96px;overflow:hidden"><div class="card" style="position:absolute;left:7px;top:6px;width:276px;height:130px"></div></div>
<div class="abs ring" style="left:1531px;top:788px"></div>
<div class="abs av" style="left:1535px;top:792px;width:41px;height:41px;background:radial-gradient(ellipse 13% 16% at 50% 36%,#ecc9b8 0,#dcb09c 85%,rgba(0,0,0,0) 100%),radial-gradient(ellipse 5% 3% at 50% 44%,#b5202a 0,#b5202a 60%,rgba(0,0,0,0) 100%),radial-gradient(ellipse 24% 34% at 56% 42%,#3a2621 0,#2e1d19 85%,rgba(0,0,0,0) 100%),radial-gradient(ellipse 44% 34% at 50% 92%,#96192b 0,#84141f 85%,rgba(0,0,0,0) 100%),linear-gradient(180deg,#d9b08a 0%,#8c8f94 25%,#9a9da2 60%,#7c7f86 100%)"></div>
<div class="abs ring" style="left:1531px;top:896px"></div>
<div class="abs av" style="left:1535px;top:900px;width:41px;height:41px;background:radial-gradient(ellipse 14% 17% at 45% 32%,#d6ae97 0,#c49a84 85%,rgba(0,0,0,0) 100%),radial-gradient(ellipse 11% 9% at 45% 48%,#3a2c28 0,#3a2c28 70%,rgba(0,0,0,0) 100%),radial-gradient(ellipse 4% 24% at 47% 84%,#2a1512 0,#2a1512 60%,rgba(0,0,0,0) 100%),radial-gradient(ellipse 62% 40% at 50% 94%,#de4630 0,#cf3a27 85%,rgba(0,0,0,0) 100%),linear-gradient(90deg,#2c343c 0%,#59605f 28%,#cfc6b2 52%,#8f927f 72%,#17254f 100%)"></div>
<div class="abs nm" id="ra1" style="left:1616.90px;letter-spacing:0.783px;top:790.90px">Leonardo DiCaprio</div>
<div class="abs tm" id="rt1" style="left:1791.00px;letter-spacing:0.727px;top:793.10px">07:00 PM</div>
<div class="abs sub" id="rs1" style="left:1616.90px;letter-spacing:0.655px;top:816.90px">Has joined the team</div>
<div class="abs nm" id="ra2" style="left:1618.00px;letter-spacing:0.805px;top:876.60px">Johnny Depp</div>
<div class="abs tm" id="rt2" style="left:1791.00px;letter-spacing:0.727px;top:878.80px">07:00 PM</div>
<div class="abs sub" id="rs2" style="left:1617.90px;letter-spacing:0.719px;top:902.50px">Added 3 new photos</div>
<div class="abs" style="left:1617px;top:931px;width:130px;height:22px;overflow:hidden">
 <div style="position:absolute;left:1px;top:0;width:34px;height:34px;border-radius:8px;background:radial-gradient(ellipse 13% 16% at 50% 36%,#ecc9b8 0,#dcb09c 85%,rgba(0,0,0,0) 100%),radial-gradient(ellipse 5% 3% at 50% 44%,#b5202a 0,#b5202a 60%,rgba(0,0,0,0) 100%),radial-gradient(ellipse 24% 34% at 56% 42%,#3a2621 0,#2e1d19 85%,rgba(0,0,0,0) 100%),radial-gradient(ellipse 44% 34% at 50% 92%,#96192b 0,#84141f 85%,rgba(0,0,0,0) 100%),linear-gradient(180deg,#d9b08a 0%,#8c8f94 25%,#9a9da2 60%,#7c7f86 100%)"></div>
 <div style="position:absolute;left:44px;top:0;width:34px;height:34px;border-radius:8px;background:radial-gradient(ellipse 11% 13% at 57% 33%,#d2ad92 0,#c29a7e 85%,rgba(0,0,0,0) 100%),radial-gradient(ellipse 13% 9% at 57% 22%,#6a4a32 0,#6a4a32 85%,rgba(0,0,0,0) 100%),radial-gradient(ellipse 16% 32% at 56% 78%,#bda07f 0,#b39673 85%,rgba(0,0,0,0) 100%),radial-gradient(ellipse 30% 34% at 52% 84%,#8d5d38 0,#7f5230 85%,rgba(0,0,0,0) 100%),radial-gradient(ellipse 5% 60% at 47% 30%,#3b2519 0,#3b2519 70%,rgba(0,0,0,0) 100%),radial-gradient(ellipse 22% 40% at 88% 35%,#e7c9a2 0,#d9a872 60%,rgba(0,0,0,0) 100%),linear-gradient(90deg,#8a4526 0%,#a65a31 40%,#b8743f 65%,#c78c55 100%)"></div>
 <div style="position:absolute;left:87px;top:0;width:34px;height:34px;border-radius:8px;background:radial-gradient(ellipse 10% 11% at 50% 42%,#d9b7a4 0,#d9b7a4 85%,rgba(0,0,0,0) 100%),radial-gradient(ellipse 16% 30% at 50% 60%,#2a201d 0,#2a201d 85%,rgba(0,0,0,0) 100%),radial-gradient(ellipse 30% 20% at 45% 95%,#e3e6e4 0,#e3e6e4 85%,rgba(0,0,0,0) 100%),linear-gradient(180deg,#4fb0c4 0%,#8fcfd8 60%,#c9dcd6 100%)"></div>
</div>
<!-- settings tab -->
<div class="abs" style="left:1860px;top:477px;width:70px;height:52px;border-radius:26px 0 0 26px;background:rgba(196,200,215,.8);border:1px solid #6f7a9e;box-shadow:0 3px 8px rgba(30,41,59,.12)"></div>
<svg class="abs" style="left:1882.1px;top:494.9px" width="16" height="16" viewBox="0 0 24 24" fill="rgba(71,85,105,.32)" stroke="#4a5675" stroke-width="1.7" stroke-linecap="round" stroke-linejoin="round"><path d="M12.22 2h-.44a2 2 0 0 0-2 2v.18a2 2 0 0 1-1 1.73l-.43.25a2 2 0 0 1-2 0l-.15-.08a2 2 0 0 0-2.73.73l-.22.38a2 2 0 0 0 .73 2.73l.15.1a2 2 0 0 1 1 1.72v.51a2 2 0 0 1-1 1.74l-.15.09a2 2 0 0 0-.73 2.73l.22.38a2 2 0 0 0 2.73.73l.15-.08a2 2 0 0 1 2 0l.43.25a2 2 0 0 1 1 1.73V20a2 2 0 0 0 2 2h.44a2 2 0 0 0 2-2v-.18a2 2 0 0 1 1-1.73l.43-.25a2 2 0 0 1 2 0l.15.08a2 2 0 0 0 2.73-.73l.22-.39a2 2 0 0 0-.73-2.73l-.15-.08a2 2 0 0 1-1-1.74v-.5a2 2 0 0 1 1-1.74l.15-.09a2 2 0 0 0 .73-2.73l-.22-.38a2 2 0 0 0-2.73-.73l-.15.08a2 2 0 0 1-2 0l-.43-.25a2 2 0 0 1-1-1.73V4a2 2 0 0 0-2-2z"/><circle cx="12" cy="12" r="3"/></svg>

<!--MAIN4-->
</div>
</body>
</html>
